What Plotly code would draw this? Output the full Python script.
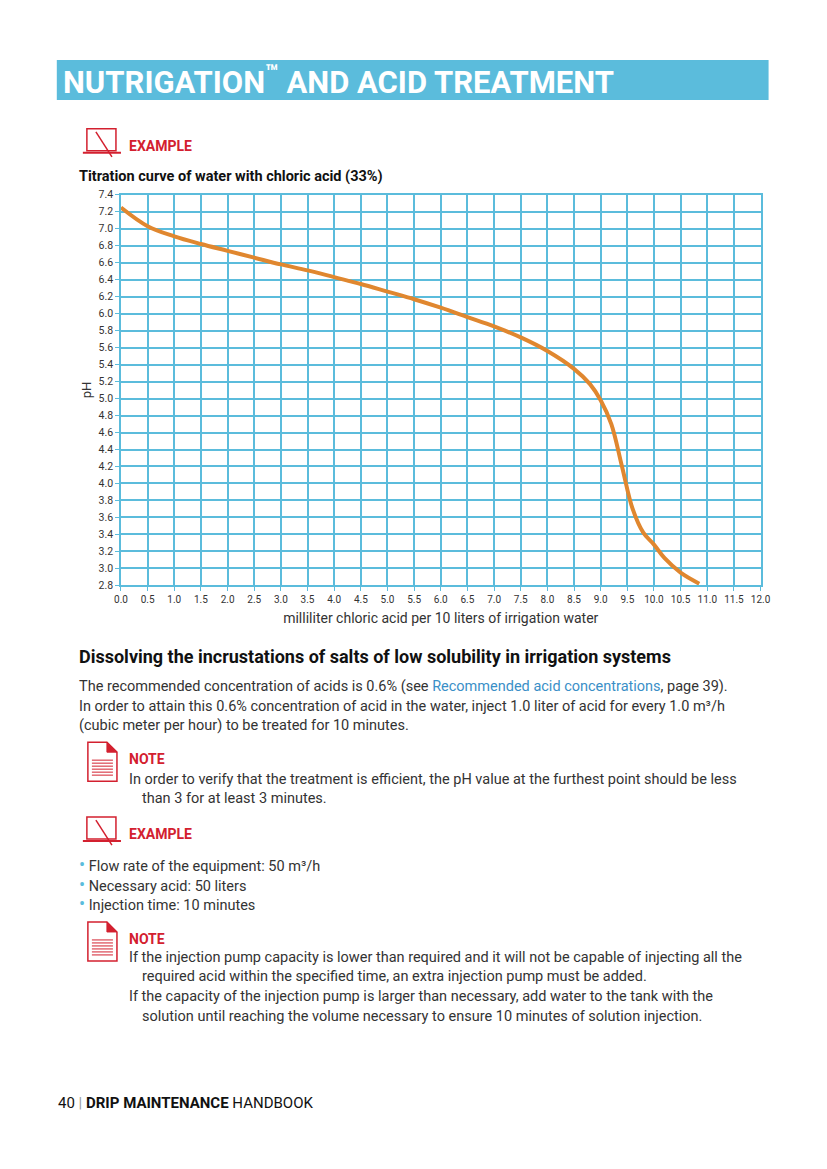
import plotly.graph_objects as go

W, H = 827, 1169

# titration curve
acid_ml = [0, 0.5, 1, 1.5, 2, 2.5, 3, 3.5, 4, 4.5, 5, 5.5, 6, 6.5, 7, 7.5, 8, 8.5, 8.8, 9.0, 9.2, 9.4, 9.6, 9.8, 10.0, 10.2, 10.5, 10.85]
ph = [7.25, 7.03, 6.91, 6.82, 6.74, 6.66, 6.58, 6.51, 6.43, 6.35, 6.26, 6.17, 6.07, 5.96, 5.85, 5.72, 5.56, 5.35, 5.17, 4.98, 4.70, 4.20, 3.70, 3.42, 3.28, 3.12, 2.95, 2.82]
x_ticks = [i * 0.5 for i in range(25)]
y_ticks = [round(2.8 + i * 0.2, 1) for i in range(24)]

RED = "#d3202f"
BLUE = "#5bbcdc"
TXT = "#333333"


# the page gets drawn slightly scaled/offset, so map reference pixels back
def px(x):
    return ((x - 16.3) / 0.977) / W


def py(y):
    return 1 - ((y - 12) / 0.99) / H


fig = go.Figure()
fig.add_trace(go.Scatter(x=acid_ml, y=ph, mode="lines", line=dict(color="#e0872f", width=4, shape="spline"),
                         hoverinfo="skip"))

fig.update_xaxes(domain=[px(122), px(760)], range=[0, 12], tickvals=x_ticks,
                 ticktext=[f"{v:.1f}" for v in x_ticks], showgrid=True, gridcolor=BLUE, gridwidth=1.5,
                 showline=True, linecolor=BLUE, linewidth=1.5, ticks="outside", ticklen=4, tickcolor=BLUE,
                 tickfont=dict(size=10, color=TXT, family="Roboto"), zeroline=False, mirror=True,
                 title=dict(text="milliliter chloric acid per 10 liters of irrigation water", standoff=9,
                            font=dict(size=14, color=TXT, family="Roboto")))
fig.update_yaxes(domain=[py(584), py(193)], range=[2.8, 7.4], tickvals=y_ticks,
                 ticktext=[f"{v:.1f}" for v in y_ticks], showgrid=True, gridcolor=BLUE, gridwidth=1.5,
                 showline=True, linecolor=BLUE, linewidth=1.5, ticks="outside", ticklen=4, tickcolor=BLUE,
                 tickfont=dict(size=10.5, color=TXT, family="Roboto"), zeroline=False, mirror=True,
                 title=dict(text="pH", standoff=4, font=dict(size=13, color=TXT, family="Roboto")))

shapes = [dict(type="rect", xref="paper", yref="paper", x0=px(58), x1=px(768), y0=py(98), y1=py(58),
               fillcolor=BLUE, line_width=0, layer="below")]


def laptop(y):
    return [
        dict(type="rect", xref="paper", yref="paper", x0=px(88), x1=px(117), y0=py(y + 9), y1=py(y - 13),
             line=dict(color=RED, width=1.5)),
        dict(type="line", xref="paper", yref="paper", x0=px(84), x1=px(122), y0=py(y + 11), y1=py(y + 11),
             line=dict(color=RED, width=2)),
        dict(type="line", xref="paper", yref="paper", x0=px(97), x1=px(113), y0=py(y - 10), y1=py(y + 15),
             line=dict(color=RED, width=1.5)),
    ]


def note(y):
    s = [dict(type="path", xref="paper", yref="paper",
              path=f"M {px(89)},{py(y-16)} L {px(108)},{py(y-16)} L {px(118)},{py(y-6)} L {px(118)},{py(y+23)} L {px(89)},{py(y+23)} Z",
              line=dict(color=RED, width=1.5)),
         dict(type="path", xref="paper", yref="paper",
              path=f"M {px(108)},{py(y-16)} L {px(118)},{py(y-6)} L {px(108)},{py(y-6)} Z",
              fillcolor=RED, line=dict(color=RED, width=1))]
    for k in range(6):
        yy = y + 2 + k * 3
        s.append(dict(type="line", xref="paper", yref="paper", x0=px(93), x1=px(114), y0=py(yy), y1=py(yy),
                      line=dict(color=RED, width=1)))
    return s


shapes += laptop(140) + laptop(829) + note(757) + note(937)

ann = []


def text(x, y, t, size=14.5, color=TXT, bold=False, family="Roboto"):
    if bold:
        t = f"<b>{t}</b>"
    ann.append(dict(x=px(x), y=py(y), xref="paper", yref="paper", text=t, showarrow=False, xanchor="left",
                    yanchor="middle", font=dict(size=size, color=color, family=family)))


text(62, 79, "NUTRIGATION<sup>™</sup> AND ACID TREATMENT", size=31, color="white", bold=True)
text(128, 144, "EXAMPLE", size=14, color=RED, bold=True)
text(78, 175, "Titration curve of water with chloric acid (33%)", size=14.5, color="#111", bold=True)
text(78, 655, "Dissolving the incrustations of salts of low solubility in irrigation systems", size=18, color="#111", bold=True)
text(78, 685, "The recommended concentration of acids is 0.6% (see <span style='color:#3a8fc7'>Recommended acid concentrations</span>, page 39).")
text(78, 705, "In order to attain this 0.6% concentration of acid in the water, inject 1.0 liter of acid for every 1.0 m³/h")
text(78, 724, "(cubic meter per hour) to be treated for 10 minutes.")
text(128, 758, "NOTE", size=14, color=RED, bold=True)
text(128, 778, "In order to verify that the treatment is efficient, the pH value at the furthest point should be less")
text(141, 797, "than 3 for at least 3 minutes.")
text(128, 833, "EXAMPLE", size=14, color=RED, bold=True)
bullets = ["Flow rate of the equipment: 50 m³/h", "Necessary acid: 50 liters", "Injection time: 10 minutes"]
for i, b in enumerate(bullets):
    text(78, 863 + i * 20, f"<span style='color:{BLUE};font-size:18px'>•</span> {b}")
text(128, 938, "NOTE", size=14, color=RED, bold=True)
text(128, 957, "If the injection pump capacity is lower than required and it will not be capable of injecting all the")
text(141, 976, "required acid within the specified time, an extra injection pump must be added.")
text(128, 996, "If the capacity of the injection pump is larger than necessary, add water to the tank with the")
text(141, 1016, "solution until reaching the volume necessary to ensure 10 minutes of solution injection.")
text(57, 1102, "40 <span style='color:#999'>|</span> <b>DRIP MAINTENANCE</b> HANDBOOK", size=15, color="#111")

fig.update_layout(width=W, height=H, margin=dict(l=0, r=0, t=0, b=0), paper_bgcolor="white",
                  plot_bgcolor="white", showlegend=False, shapes=shapes, annotations=ann)

fig.write_html("out.html")
